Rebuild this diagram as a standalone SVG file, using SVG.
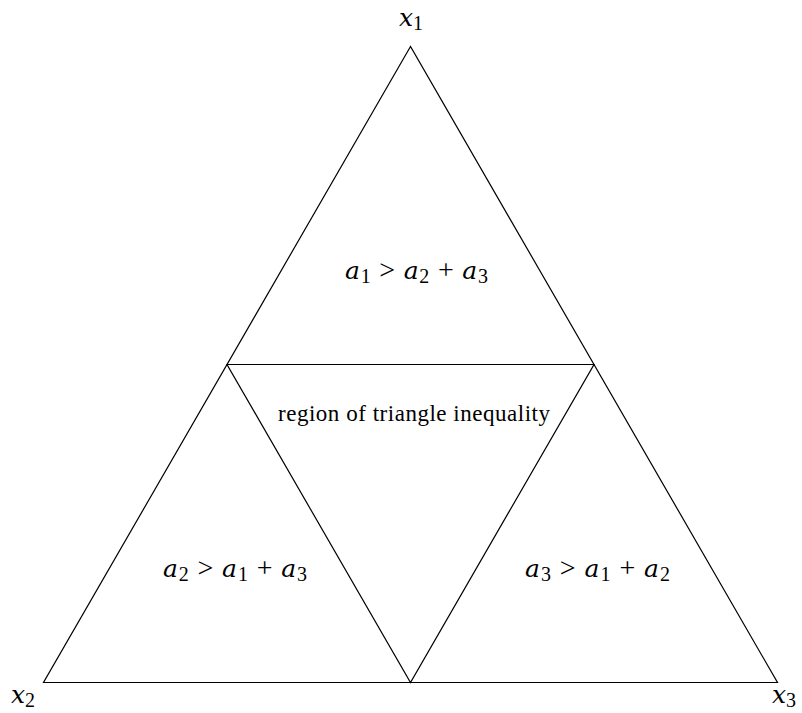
<svg xmlns="http://www.w3.org/2000/svg" width="802" height="713" viewBox="0 0 802 713">
<style>
.ln{fill:none;stroke:#000;stroke-width:1.2;stroke-linejoin:miter}
.m{font-family:"Liberation Serif","DejaVu Serif",serif;font-size:28px;fill:#000}
.v{font-family:"DejaVu Serif",serif;font-style:italic;font-size:25px}
.s{font-size:20px}
.t{font-family:"Liberation Serif","DejaVu Serif",serif;font-size:23px;fill:#000}
</style>
<rect width="802" height="713" fill="#fff"/>
<g id="connectors">
<polygon class="ln" points="410.5,46.5 43.5,682.5 777.5,682.5"/>
<polygon class="ln" points="227,364.5 594,364.5 410.5,682.5"/>
</g>
<g id="x1"><text class="m" x="399" y="26"><tspan class="v">x</tspan><tspan class="s" dy="4">1</tspan></text></g>
<g id="x2"><text class="m" x="11" y="703"><tspan class="v">x</tspan><tspan class="s" dy="4">2</tspan></text></g>
<g id="x3"><text class="m" x="772" y="703"><tspan class="v">x</tspan><tspan class="s" dy="4">3</tspan></text></g>
<g id="top"><text class="m" x="345" y="279" textLength="143" lengthAdjust="spacing"><tspan class="v">a</tspan><tspan class="s" dy="4">1</tspan><tspan dy="-4"> &gt; </tspan><tspan class="v">a</tspan><tspan class="s" dy="4">2</tspan><tspan dy="-4"> + </tspan><tspan class="v">a</tspan><tspan class="s" dy="4">3</tspan></text></g>
<g id="center"><text class="t" x="278" y="421" textLength="272" lengthAdjust="spacing">region of triangle inequality</text></g>
<g id="left"><text class="m" x="163" y="577" textLength="144" lengthAdjust="spacing"><tspan class="v">a</tspan><tspan class="s" dy="4">2</tspan><tspan dy="-4"> &gt; </tspan><tspan class="v">a</tspan><tspan class="s" dy="4">1</tspan><tspan dy="-4"> + </tspan><tspan class="v">a</tspan><tspan class="s" dy="4">3</tspan></text></g>
<g id="right"><text class="m" x="525" y="577" textLength="145" lengthAdjust="spacing"><tspan class="v">a</tspan><tspan class="s" dy="4">3</tspan><tspan dy="-4"> &gt; </tspan><tspan class="v">a</tspan><tspan class="s" dy="4">1</tspan><tspan dy="-4"> + </tspan><tspan class="v">a</tspan><tspan class="s" dy="4">2</tspan></text></g>
</svg>
